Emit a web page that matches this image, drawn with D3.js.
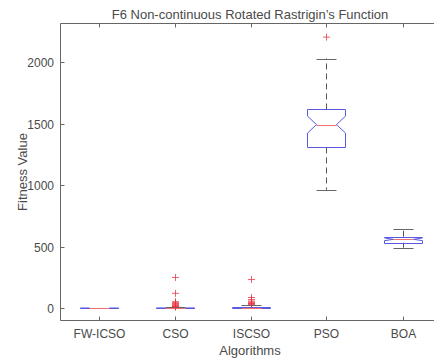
<!DOCTYPE html>
<html>
<head>
<meta charset="utf-8">
<script src="https://cdn.jsdelivr.net/npm/d3@7"></script>
<style>
  body { margin: 0; background: #fff; }
  text { font-family: "Liberation Sans", Arial, Helvetica, sans-serif; fill: #4a4a4a; }
</style>
</head>
<body>
<div id="chart"></div>
<script>
// box statistics
const categories = ['FW-ICSO', 'CSO', 'ISCSO', 'PSO', 'BOA'];
const q1 = [0, 0, 0, 1307, 532];
const medians = [0, 0.5, 2, 1493, 560];
const q3 = [0, 3, 12, 1616, 581];
const whiskerLow = [0, 0, 0, 963, 492];
const whiskerHigh = [0, 7, 28, 2030, 641];
const outliers = [
  [],
  [250, 121, 53, 45, 38, 31, 25, 20, 15, 12, 10],
  [233, 87, 70, 58, 50, 44, 38, 34, 31],
  [2204],
  []
];
const yTicks = [0, 500, 1000, 1500, 2000];
const sampleSize = 50;

const width = 434, height = 361;
const margin = { top: 23.5, left: 60.5, bottom: 320.5 };

const svg = d3.select('#chart').append('svg')
  .attr('width', width)
  .attr('height', height);

const x = d3.scaleLinear().domain([0.5, 5.5]).range([margin.left, margin.left + 380]);
const y = d3.scaleLinear().domain([-100, 2315]).range([margin.bottom, margin.top]);
const step = x(2) - x(1);
const halfW = Math.round(step * 0.25);
const snap = v => Math.round(v) + 0.5;

// axes box
const axisColor = '#666';
svg.append('line').attr('x1', margin.left).attr('x2', margin.left)
  .attr('y1', margin.top).attr('y2', margin.bottom).attr('stroke', axisColor);
svg.append('line').attr('x1', margin.left).attr('x2', width)
  .attr('y1', margin.bottom).attr('y2', margin.bottom).attr('stroke', axisColor);
svg.append('line').attr('x1', margin.left).attr('x2', width)
  .attr('y1', margin.top).attr('y2', margin.top).attr('stroke', axisColor);

// y ticks (inward)
const yAxis = svg.append('g');
yTicks.forEach(t => {
  const py = snap(y(t));
  yAxis.append('line').attr('x1', margin.left).attr('x2', margin.left + 4)
    .attr('y1', py).attr('y2', py).attr('stroke', axisColor);
  yAxis.append('text').attr('x', margin.left - 6.5).attr('y', py + 4.5)
    .attr('text-anchor', 'end').style('font-size', '12px').text(t);
});

// x ticks (bottom and top, inward)
categories.forEach((c, i) => {
  const px = snap(x(i + 1));
  svg.append('line').attr('x1', px).attr('x2', px)
    .attr('y1', margin.bottom).attr('y2', margin.bottom - 4).attr('stroke', axisColor);
  svg.append('line').attr('x1', px).attr('x2', px)
    .attr('y1', margin.top).attr('y2', margin.top + 4).attr('stroke', axisColor);
  svg.append('text').attr('x', px).attr('y', 338)
    .attr('text-anchor', 'middle').style('font-size', '12px').text(c);
});

// labels
svg.append('text').attr('x', 250).attr('y', 18.5).attr('text-anchor', 'middle')
  .style('font-size', '13px').text('F6 Non-continuous Rotated Rastrigin\u2019s Function');
svg.append('text').attr('x', 250).attr('y', 355).attr('text-anchor', 'middle')
  .style('font-size', '13px').text('Algorithms');
svg.append('text').attr('transform', `translate(27,172) rotate(-90)`)
  .attr('text-anchor', 'middle').style('font-size', '13px').text('Fitness Value');

const boxes = svg.append('g');

categories.forEach((c, i) => {
  const cx = snap(x(i + 1));
  const iqr = q3[i] - q1[i];
  const notch = 1.57 * iqr / Math.sqrt(sampleSize);
  const nLo = medians[i] - notch, nHi = medians[i] + notch;
  const capW = Math.round(halfW / 2);

  // whiskers
  boxes.append('line').attr('x1', cx).attr('x2', cx)
    .attr('y1', y(q3[i])).attr('y2', y(whiskerHigh[i]))
    .attr('stroke', '#555').attr('stroke-dasharray', '6,4');
  boxes.append('line').attr('x1', cx).attr('x2', cx)
    .attr('y1', y(q1[i])).attr('y2', y(whiskerLow[i]))
    .attr('stroke', '#555').attr('stroke-dasharray', '6,4');
  [whiskerHigh[i], whiskerLow[i]].forEach(v => {
    boxes.append('line').attr('x1', cx - capW).attr('x2', cx + capW)
      .attr('y1', snap(y(v))).attr('y2', snap(y(v))).attr('stroke', '#666');
  });

  // notched box
  const pts = [
    [cx - halfW, snap(y(q1[i]))], [cx - halfW, y(nLo)], [cx - capW, y(medians[i])],
    [cx - halfW, y(nHi)], [cx - halfW, snap(y(q3[i]))], [cx + halfW, snap(y(q3[i]))],
    [cx + halfW, y(nHi)], [cx + capW, y(medians[i])], [cx + halfW, y(nLo)],
    [cx + halfW, snap(y(q1[i]))]
  ];
  boxes.append('path').attr('d', d3.line()(pts) + 'Z')
    .attr('fill', 'none').attr('stroke', '#5a5ae0').attr('stroke-width', 1);

  // median
  boxes.append('line').attr('x1', cx - capW).attr('x2', cx + capW)
    .attr('y1', snap(y(medians[i]))).attr('y2', snap(y(medians[i])))
    .attr('stroke', '#f07070');

  // outliers
  outliers[i].forEach(v => {
    const py = y(v);
    boxes.append('path')
      .attr('d', `M${cx - 3.5},${py}H${cx + 3.5}M${cx},${py - 3.5}V${py + 3.5}`)
      .attr('stroke', '#e8303c').attr('stroke-opacity', 0.75).attr('fill', 'none');
  });
});
</script>
</body>
</html>
